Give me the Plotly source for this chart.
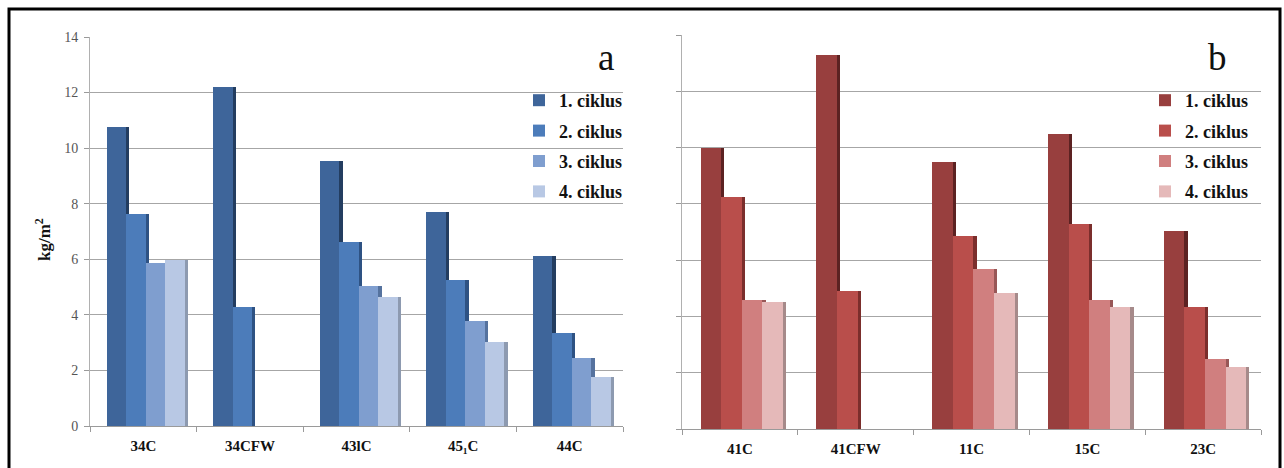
import plotly.graph_objects as go

# ---------------- data ----------------
cats_a = ["34C", "34CFW", "43lC", "45₁C", "44C"]
cats_b = ["41C", "41CFW", "11C", "15C", "23C"]
series_names = ["1. ciklus", "2. ciklus", "3. ciklus", "4. ciklus"]

a_c1 = [10.75, 12.2, 9.55, 7.7, 6.12]
a_c2 = [7.63, 4.3, 6.63, 5.25, 3.35]
a_c3 = [5.85, 0, 5.05, 3.78, 2.45]
a_c4 = [5.98, 0, 4.63, 3.03, 1.75]

b_c1 = [10.0, 13.3, 9.5, 10.5, 7.05]
b_c2 = [8.25, 4.9, 6.85, 7.3, 4.35]
b_c3 = [4.6, 0, 5.7, 4.6, 2.5]
b_c4 = [4.5, 0, 4.85, 4.35, 2.2]

y_ticks = [0, 2, 4, 6, 8, 10, 12, 14]

# ---------------- styles ----------------
cols_a = ["#3e659a", "#4c7cba", "#7f9ecf", "#b8c8e4"]
side_a = ["#233d60", "#2e5283", "#55729e", "#8d9ab0"]
cols_b = ["#983f3e", "#b94e4b", "#d07f7f", "#e5b9b9"]
side_b = ["#5c2222", "#7b2e2c", "#985757", "#a68a8a"]

SERIF = "Liberation Serif, serif"
GRID = "#a6a6a6"

fig = go.Figure()


def add_panel(cats, series, cols, sides, xa, ya, legend, start, width, sw):
    for i, (vals, name) in enumerate(zip(series, series_names)):
        # darker side face (3D look)
        fig.add_trace(go.Bar(
            x=cats, y=vals, xaxis=xa, yaxis=ya,
            offset=start + (i + 1) * width - 0.004, width=sw,
            marker=dict(color=sides[i], line=dict(width=0)),
            showlegend=False, hoverinfo="skip", legend=legend,
        ))
        fig.add_trace(go.Bar(
            x=cats, y=vals, xaxis=xa, yaxis=ya, name=name,
            offset=start + i * width, width=width,
            marker=dict(color=cols[i], line=dict(width=0)),
            legend=legend, legendgroup=legend + name,
        ))


add_panel(cats_a, [a_c1, a_c2, a_c3, a_c4], cols_a, side_a, "x", "y", "legend",
          -0.345, 0.183, 0.035)
add_panel(cats_b, [b_c1, b_c2, b_c3, b_c4], cols_b, side_b, "x2", "y2", "legend2",
          -0.34, 0.178, 0.032)

W, H = 1284, 468


def px_x(p):
    return p / W


def px_y(p):
    return 1 - p / H


xaxis_common = dict(
    type="category", range=[-0.5, 4.5], showgrid=False, zeroline=False,
    showline=True, linecolor="#9a9a9a", linewidth=1, automargin=False,
    ticks="outside", tickson="boundaries", ticklen=5, tickcolor="#9a9a9a",
    ticklabelstandoff=6,
    tickfont=dict(family=SERIF, size=15, color="#111", weight="bold"),
)
yaxis_common = dict(
    range=[0, 14], tickvals=y_ticks, showgrid=True, gridcolor=GRID, gridwidth=1,
    zeroline=False, showline=True, linecolor="#b0b0b0", linewidth=1,
    automargin=False,
    ticks="outside", ticklen=5, tickcolor="#9a9a9a",
    tickfont=dict(family=SERIF, size=14, color="#555"),
)

legend_font = dict(family=SERIF, size=18, color="#111", weight="bold")

fig.update_layout(
    width=W, height=H, autosize=False,
    margin=dict(l=0, r=0, t=0, b=0, pad=0),
    paper_bgcolor="white", plot_bgcolor="white",
    barmode="overlay", bargap=0,
    showlegend=True,
    xaxis=dict(xaxis_common, domain=[px_x(90), px_x(623)], anchor="y"),
    yaxis=dict(yaxis_common, domain=[px_y(426), px_y(37)], anchor="x",
               ticklabelstandoff=3),
    xaxis2=dict(xaxis_common, domain=[px_x(682), px_x(1261)], anchor="y2"),
    yaxis2=dict(yaxis_common, domain=[px_y(429), px_y(35)], anchor="x2",
                showticklabels=False),
    legend=dict(x=px_x(519), y=px_y(82), xanchor="left", yanchor="top",
                font=legend_font, bgcolor="rgba(0,0,0,0)",
                itemwidth=30, tracegroupgap=4),
    legend2=dict(x=px_x(1145), y=px_y(82), xanchor="left", yanchor="top",
                 font=dict(legend_font), bgcolor="rgba(0,0,0,0)",
                 itemwidth=30, tracegroupgap=4),
    annotations=[
        dict(text="a", x=px_x(606), y=px_y(35), xref="paper", yref="paper",
             showarrow=False, font=dict(family=SERIF, size=37, color="#111")),
        dict(text="b", x=px_x(1229), y=px_y(35), xref="paper", yref="paper",
             showarrow=False, font=dict(family=SERIF, size=37, color="#111")),
        dict(text="<b>kg/m<sup>2</sup></b>", x=px_x(30), y=px_y(240),
             xref="paper", yref="paper", showarrow=False, textangle=-90,
             font=dict(family=SERIF, size=17, color="#111")),
    ],
    shapes=[
        dict(type="rect", xref="paper", yref="paper",
             x0=px_x(9), x1=px_x(1280), y0=-0.05, y1=px_y(9),
             line=dict(color="black", width=3)),
    ],
)

fig.write_html(
    "out.html",
    config={"displayModeBar": False},
    post_script=(
        "var s=document.documentElement.style;s.margin='0';s.padding='0';"
        "s.overflow='hidden';s.height='468px';"
        "var b=document.body.style;b.margin='0';b.padding='0';"
        "b.overflow='hidden';b.height='468px';"
    ),
)
